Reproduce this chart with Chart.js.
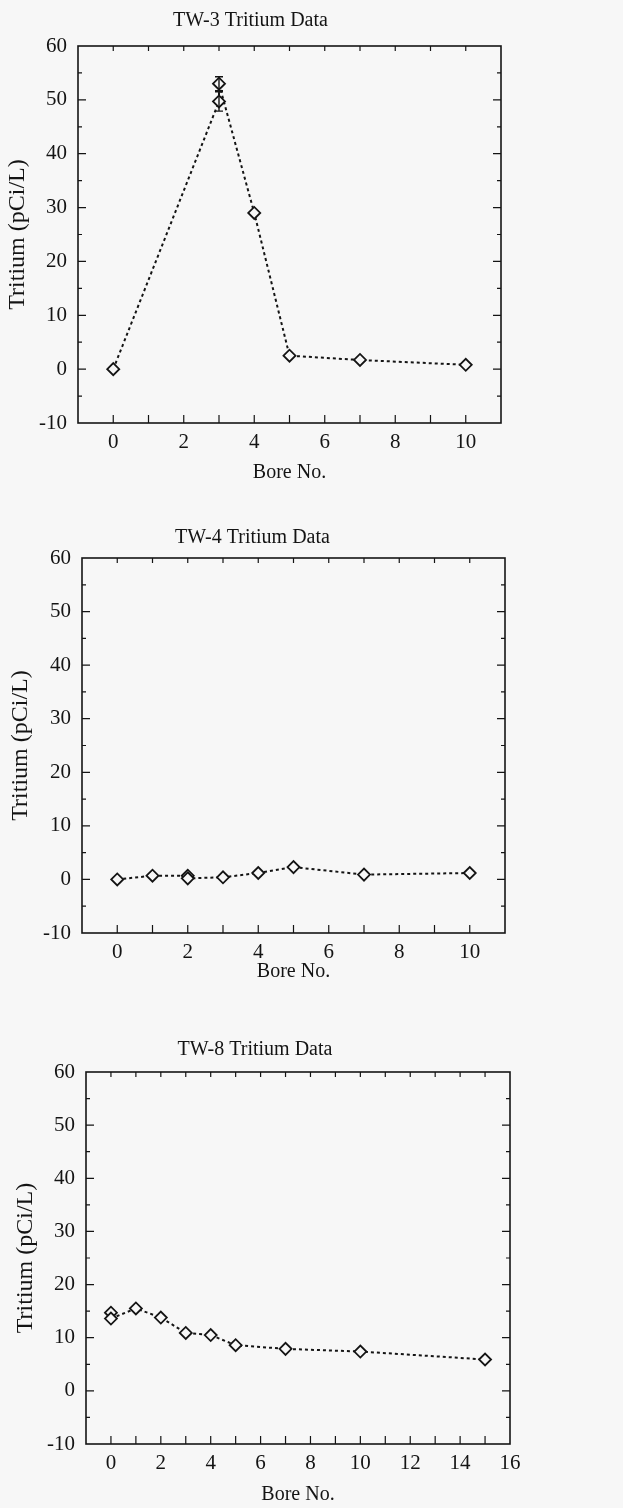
<!DOCTYPE html>
<html>
<head>
<meta charset="utf-8">
<script src="https://cdn.jsdelivr.net/npm/chart.js@4/dist/chart.umd.min.js"></script>
<style>
    html, body { margin: 0; padding: 0; background: #f7f7f7; }
    body { width: 623px; height: 1508px; position: relative; overflow: hidden; }
    .box { position: absolute; left: 0; }
    .box canvas { display: block; }
</style>
</head>
<body>
<div class="box" id="box1" style="top:0px;width:578px;height:489px"><canvas id="tw3"></canvas></div>
<div class="box" id="box2" style="top:490px;width:584px;height:503px"><canvas id="tw4"></canvas></div>
<div class="box" id="box3" style="top:1000px;width:594px;height:508px"><canvas id="tw8"></canvas></div>
<script>
// TW-3 data
const tw3Bore = [0, 3, 3, 4, 5, 7, 10];
const tw3Tritium = [0, 49.7, 53, 29, 2.5, 1.7, 0.8];
const tw3Err = [0, 1.8, 1.3, 0, 0, 0, 0];

// TW-4 data
const tw4Bore = [0, 1, 2, 2, 3, 4, 5, 7, 10];
const tw4Tritium = [0, 0.7, 0.7, 0.2, 0.4, 1.2, 2.3, 0.9, 1.2];

// TW-8 data
const tw8Bore = [0, 0, 1, 2, 3, 4, 5, 7, 10, 15];
const tw8Tritium = [14.7, 13.6, 15.5, 13.8, 10.9, 10.5, 8.6, 7.9, 7.4, 5.9];

const yTicks = [-10, 0, 10, 20, 30, 40, 50, 60];

const INK = '#141414';
const BG = '#f7f7f7';
const SERIF = "'Liberation Serif', 'Times New Roman', serif";

// frame, inward ticks and error bars
const frameTicks = {
    id: 'frameTicks',
    afterDatasetsDraw(chart) {
        const { ctx, chartArea } = chart;
        const xs = chart.scales.x;
        const ys = chart.scales.y;
        ctx.save();
        ctx.strokeStyle = INK;
        ctx.lineWidth = 1.6;
        ctx.strokeRect(chartArea.left, chartArea.top, chartArea.right - chartArea.left, chartArea.bottom - chartArea.top);

        ctx.lineWidth = 1.2;
        ctx.beginPath();
        for (let v = xs.min + 1; v < xs.max; v++) {
            const px = xs.getPixelForValue(v);
            ctx.moveTo(px, chartArea.bottom);
            ctx.lineTo(px, chartArea.bottom - 8);
            ctx.moveTo(px, chartArea.top);
            ctx.lineTo(px, chartArea.top + 5);
        }
        for (let v = ys.min + 5; v < ys.max; v += 5) {
            const py = ys.getPixelForValue(v);
            const len = v % 10 === 0 ? 8 : 4;
            ctx.moveTo(chartArea.left, py);
            ctx.lineTo(chartArea.left + len, py);
            ctx.moveTo(chartArea.right, py);
            ctx.lineTo(chartArea.right - len, py);
        }
        ctx.stroke();

        // error bars
        const errs = chart.options.plugins.frameTicks.err || [];
        const ds = chart.data.datasets[0].data;
        ctx.lineWidth = 1.4;
        ctx.beginPath();
        errs.forEach((e, i) => {
            if (!e) return;
            const px = xs.getPixelForValue(ds[i].x);
            const top = ys.getPixelForValue(ds[i].y + e);
            const bot = ys.getPixelForValue(ds[i].y - e);
            ctx.moveTo(px, top); ctx.lineTo(px, bot);
            ctx.moveTo(px - 4, top); ctx.lineTo(px + 4, top);
            ctx.moveTo(px - 4, bot); ctx.lineTo(px + 4, bot);
        });
        ctx.stroke();
        ctx.restore();
    }
};

function makeChart(id, opt) {
    const points = opt.bore.map((b, i) => ({ x: b, y: opt.tritium[i] }));
    return new Chart(document.getElementById(id), {
        type: 'scatter',
        data: {
            datasets: [{
                data: points,
                showLine: true,
                borderColor: INK,
                borderWidth: 2,
                borderDash: [3, 3],
                pointStyle: 'rectRot',
                pointRadius: 6,
                pointBorderWidth: 1.8,
                pointBorderColor: INK,
                pointBackgroundColor: BG
            }]
        },
        options: {
            responsive: true,
            maintainAspectRatio: false,
            animation: false,
            layout: { padding: { left: 0, right: opt.padRight, top: 0, bottom: 0 } },
            plugins: {
                legend: { display: false },
                tooltip: { enabled: false },
                title: {
                    display: true,
                    text: opt.title,
                    color: INK,
                    font: { family: SERIF, size: 20, weight: 'normal' },
                    padding: { top: opt.titleTop, bottom: opt.titleBottom }
                },
                frameTicks: { err: opt.err }
            },
            scales: {
                x: {
                    type: 'linear',
                    min: -1,
                    max: opt.xMax,
                    grid: { display: false, drawTicks: false },
                    border: { display: false },
                    ticks: {
                        stepSize: 1,
                        autoSkip: false,
                        maxRotation: 0,
                        padding: 7,
                        color: INK,
                        font: { family: SERIF, size: 21 },
                        callback: v => (v >= 0 && v % 2 === 0) ? String(v) : ''
                    },
                    title: {
                        display: true,
                        text: 'Bore No.',
                        color: INK,
                        font: { family: SERIF, size: 20 },
                        padding: { top: 0, bottom: opt.boreBottom }
                    },
                    afterFit: s => { s.height = opt.xHeight; }
                },
                y: {
                    min: -10,
                    max: 60,
                    grid: { display: false, drawTicks: false },
                    border: { display: false },
                    afterBuildTicks: s => { s.ticks = yTicks.map(v => ({ value: v })); },
                    ticks: {
                        padding: 11,
                        color: INK,
                        font: { family: SERIF, size: 21 }
                    },
                    title: {
                        display: true,
                        text: 'Tritium (pCi/L)',
                        color: INK,
                        font: { family: SERIF, size: 24 },
                        padding: { top: opt.yTitleTop, bottom: 0 }
                    },
                    afterFit: s => { s.width = opt.yWidth; }
                }
            }
        },
        plugins: [frameTicks]
    });
}

makeChart('tw3', {
    title: 'TW-3 Tritium Data', bore: tw3Bore, tritium: tw3Tritium, err: tw3Err,
    xMax: 11, padRight: 77, yWidth: 78, titleTop: 9, titleBottom: 13,
    xHeight: 66, boreBottom: 4.6, yTitleTop: 3.6
});

makeChart('tw4', {
    title: 'TW-4 Tritium Data', bore: tw4Bore, tritium: tw4Tritium, err: [],
    xMax: 11, padRight: 79, yWidth: 82, titleTop: 36, titleBottom: 8,
    xHeight: 60, boreBottom: 9.6, yTitleTop: 6.6
});

makeChart('tw8', {
    title: 'TW-8 Tritium Data', bore: tw8Bore, tritium: tw8Tritium, err: [],
    xMax: 16, padRight: 84, yWidth: 86, titleTop: 38, titleBottom: 10,
    xHeight: 64, boreBottom: 1.6, yTitleTop: 11.6
});
</script>
</body>
</html>
